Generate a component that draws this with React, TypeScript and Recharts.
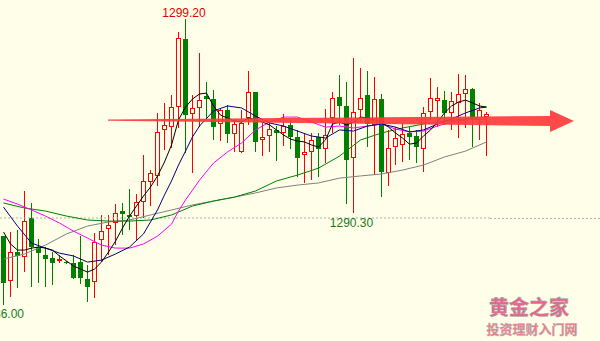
import React from 'react';
import { ComposedChart, Bar, Line, XAxis, YAxis, ReferenceLine } from 'recharts';

// OHLC per candle
const OPEN = [1289.24,1287.18,1288.51,1288.28,1290.07,1288.74,1288.37,1288.24,1288.10,1288.05,
  1288.01,1288.05,1287.27,1287.13,1289.06,1289.57,1289.84,1290.39,1290.21,1290.16,
  1290.80,1291.72,1292.00,1294.11,1294.24,1295.16,1298.28,1294.84,1295.12,1295.67,
  1295.53,1294.38,1295.02,1293.92,1293.10,1294.66,1295.85,1293.65,1293.83,1294.11,
  1293.97,1294.34,1293.79,1292.96,1293.10,1293.79,1293.24,1294.66,1295.62,1295.21,
  1292.82,1295.02,1295.71,1294.34,1295.53,1292.13,1293.33,1293.42,1293.97,1293.83,
  1293.24,1294.93,1295.44,1295.48,1294.89,1295.35,1295.76,1295.99,1294.57,1294.70];

const HIGH = [1289.24,1289.43,1289.52,1291.31,1290.76,1289.11,1288.74,1288.51,1288.37,1288.10,
  1288.37,1289.24,1287.91,1289.38,1290.21,1290.21,1290.71,1290.76,1291.40,1291.17,
  1292.96,1292.27,1294.89,1295.35,1295.71,1298.60,1299.20,1295.71,1297.64,1296.31,
  1295.94,1295.12,1295.25,1294.57,1295.02,1296.81,1295.85,1294.43,1294.43,1294.29,
  1294.84,1294.57,1294.11,1293.97,1293.97,1293.97,1295.07,1295.85,1296.63,1296.31,
  1297.41,1296.95,1296.81,1296.54,1295.76,1294.11,1294.24,1294.43,1294.24,1294.11,
  1295.16,1296.49,1296.08,1295.90,1295.85,1296.68,1296.63,1296.03,1295.35,1294.93];

const LOW = [1286.08,1286.45,1286.86,1287.59,1286.90,1287.09,1286.90,1287.00,1288.01,1287.96,
  1287.27,1287.04,1286.22,1286.40,1288.05,1288.37,1288.83,1289.29,1289.52,1289.01,
  1290.07,1290.62,1291.54,1293.19,1293.28,1294.20,1293.05,1292.13,1294.24,1294.66,
  1293.65,1293.60,1293.51,1293.10,1293.05,1294.34,1293.10,1292.91,1293.10,1292.68,
  1293.37,1293.24,1291.95,1291.68,1291.81,1291.95,1292.59,1293.97,1294.34,1290.71,
  1290.30,1294.43,1293.33,1292.04,1291.03,1291.54,1292.50,1292.64,1292.73,1292.59,
  1292.18,1294.57,1294.24,1294.34,1294.11,1293.74,1294.20,1293.33,1293.65,1292.91];

const CLOSE = [1287.09,1288.51,1288.33,1289.93,1288.74,1288.46,1288.19,1288.01,1288.19,1288.01,
  1287.32,1287.32,1286.90,1288.97,1289.47,1289.75,1290.30,1290.25,1290.12,1290.80,
  1291.77,1292.13,1294.02,1294.34,1295.16,1298.33,1294.79,1295.12,1295.48,1295.53,
  1294.24,1295.02,1293.92,1294.38,1294.43,1295.85,1293.56,1293.79,1294.15,1293.97,
  1294.29,1293.79,1292.82,1293.10,1293.65,1293.24,1293.88,1295.57,1295.21,1292.73,
  1294.93,1295.57,1294.38,1295.53,1292.18,1293.28,1293.74,1293.92,1293.79,1293.33,
  1294.89,1295.57,1295.57,1294.89,1295.44,1295.76,1295.99,1294.66,1295.02,1294.84];

const _ = null;

// moving averages, read where the lines were visible (gaps are joined)
const MA5 = [1289.43,1288.88,1288.60,1288.60,1288.69,1288.74,1288.69,1288.60,1288.33,1288.10,
  1287.87,1287.73,1287.59,1287.73,1288.05,1288.51,1289.01,1289.61,1290.16,1290.62,
  1291.08,1291.49,1292.00,1292.64,1293.42,1294.57,1295.16,1295.53,1295.76,1295.80,
  1295.21,1294.79,1294.66,1294.52,1294.47,1294.66,1294.57,1294.47,1294.34,1294.11,
  1293.88,1293.69,1293.60,1293.56,1293.42,1293.33,1293.65,1294.38,1294.47,1294.34,
  1294.47,1294.70,1294.66,1294.57,1294.47,1294.24,1293.97,1293.74,1293.46,1293.51,
  1293.83,1294.11,1294.47,1294.89,1295.21,1295.39,1295.48,1295.35,1295.21,1295.16];

const MA10 = [1290.57,_,1289.70,_,1288.92,_,1288.69,_,1288.46,_,
  1288.33,_,1288.05,_,1288.14,_,1288.42,_,1288.74,_,
  1289.34,_,1290.44,1291.13,1291.77,1292.50,1293.14,1293.79,1294.29,_,
  1294.98,_,1295.21,_,1295.12,_,1294.75,_,1294.43,_,
  1294.29,_,1294.06,_,1293.83,_,1293.74,_,1294.11,_,
  1294.06,_,1294.29,_,1294.38,_,1294.24,_,1294.02,_,
  1294.11,_,1294.38,_,1294.61,_,1294.89,_,1295.12,1295.16];

const MA20 = [1290.94,_,1290.71,_,1290.44,_,1290.16,_,1289.84,_,
  1289.47,_,1289.15,_,1288.83,_,1288.69,_,1288.69,_,
  1288.88,_,1289.24,_,1289.79,1290.39,1290.90,1291.35,1291.81,_,
  1292.59,_,1293.10,_,1293.51,_,1294.11,_,1294.47,_,
  1294.70,_,1294.70,_,1294.47,_,1294.24,_,1294.29,_,
  1294.20,_,1294.29,_,1294.38,_,1294.15,_,1294.02,_,
  1294.06,_,1294.29,_,1294.47,_,1294.57,_,_,1294.61];

const MA30 = [1290.76,_,_,1290.53,_,_,1290.39,_,_,1290.16,
  _,_,1289.98,_,_,1289.93,_,_,1289.93,_,
  _,1289.98,_,_,1290.21,_,_,1290.62,_,_,
  1290.85,_,_,1291.03,_,_,1291.31,_,_,1291.77,
  _,_,1292.04,_,_,1292.36,_,_,1292.91,_,
  _,1293.65,_,_,1293.97,_,_,1294.20,_,_,
  1294.38,_,_,1294.52,_,_,1294.61,_,_,1294.70];

const MA60 = [1288.19,_,_,1288.42,_,_,1288.83,_,_,1289.34,
  _,_,1289.70,_,_,1289.89,_,_,1289.98,_,
  _,1290.21,_,_,1290.44,_,_,1290.67,_,_,
  1290.85,_,_,1291.03,_,_,1291.22,_,_,1291.45,
  _,_,1291.58,_,_,1291.68,_,_,1291.90,_,
  _,1292.00,_,_,1292.09,_,_,1292.27,_,_,
  1292.50,_,_,1292.87,_,_,1293.14,_,_,1293.56];

const PRICE_LINE = 1290.07;
const HIGH_LABEL = '1299.20';
const LOW_LABEL = '1290.30';
const LEFT_LABEL = '1286.00';

const BG = '#fffee8';
const UP = '#ff0000';
const DOWN = '#008000';

const data = OPEN.map((o, i) => ({
  i,
  open: o,
  high: HIGH[i],
  low: LOW[i],
  close: CLOSE[i],
  range: [LOW[i], HIGH[i]],
  ma5: MA5[i],
  ma10: MA10[i],
  ma20: MA20[i],
  ma30: MA30[i],
  ma60: MA60[i],
}));

const Candle = (props: any) => {
  const { x, y, width, height, payload } = props;
  const { open, close, high, low } = payload;
  const k = height / (high - low);
  const py = (v: number) => y + (high - v) * k;
  const cx = x + width / 2;
  const top = Math.round(py(Math.max(open, close)));
  const bot = Math.max(Math.round(py(Math.min(open, close))), top + 1);
  const yh = Math.round(py(high));
  const yl = Math.round(py(low));
  if (close >= open) {
    return (
      <g>
        <line x1={cx} x2={cx} y1={yh} y2={top} stroke={UP} strokeWidth={1} />
        <line x1={cx} x2={cx} y1={bot} y2={yl} stroke={UP} strokeWidth={1} />
        <rect x={x + 0.5} y={top + 0.5} width={width - 1} height={Math.max(bot - top - 1, 1)} fill={BG} stroke={UP} strokeWidth={1} />
      </g>
    );
  }
  return (
    <g>
      <line x1={cx} x2={cx} y1={yh} y2={yl} stroke={DOWN} strokeWidth={1} />
      <rect x={x} y={top} width={width} height={bot - top} fill={DOWN} />
    </g>
  );
};

const lineProps = {
  strokeWidth: 1,
  dot: false,
  activeDot: false,
  connectNulls: true,
  isAnimationActive: false,
} as const;

export default function App() {
  return (
    <div style={{ position: 'absolute', left: 0, top: 0, width: 600, height: 341, background: BG, overflow: 'hidden' }}>
      <ComposedChart width={600} height={341} data={data} margin={{ top: 0, right: 110, bottom: 0, left: 0 }} barCategoryGap={0}>
        <XAxis dataKey="i" hide />
        <YAxis hide domain={[1284.43, 1300.07]} allowDataOverflow />
        <ReferenceLine y={PRICE_LINE} stroke="#b0b0b0" strokeDasharray="2 2" />
        <Bar dataKey="range" barSize={5} shape={<Candle />} isAnimationActive={false} />
        <Line dataKey="ma60" stroke="#808080" {...lineProps} />
        <Line dataKey="ma30" stroke="#008000" {...lineProps} />
        <Line dataKey="ma20" stroke="#ff00ff" {...lineProps} />
        <Line dataKey="ma10" stroke="#000080" {...lineProps} />
        <Line dataKey="ma5" stroke="#000000" {...lineProps} />
      </ComposedChart>
      <svg width={600} height={341} style={{ position: 'absolute', left: 0, top: 0, pointerEvents: 'none' }}>
        {/* extend the dotted price line across the full width */}
        <line x1={490} x2={600} y1={218.5} y2={218.5} stroke="#b0b0b0" strokeDasharray="2 2" />
        {/* hand-drawn red arrow */}
        <polygon points="108,119.5 550,116 550,110 574,121 550,132 550,126 108,120.8" fill="#ff3b3b" fillOpacity={0.92} />
        <g fontFamily="'Liberation Sans', Arial, sans-serif" fontSize={12}>
          <text x={184} y={17} textAnchor="middle" fill="#e00000">{HIGH_LABEL}</text>
          <text x={351.5} y={227} textAnchor="middle" fill="#1a7a1a">{LOW_LABEL}</text>
          <text x={24} y={318} textAnchor="end" fill="#1a7a1a">{LEFT_LABEL}</text>
        </g>
        <g fontFamily="'Noto Sans CJK SC', sans-serif">
          <text x={529} y={315} textAnchor="middle" fontSize={20} fontWeight="bold" fill="#f2608c" stroke="#a0a0a0" strokeWidth={0.6}>黄金之家</text>
          <text x={532} y={334} textAnchor="middle" fontSize={13} fontWeight="bold" fill="#f07a8a" stroke="#b0b0b0" strokeWidth={0.4}>投资理财入门网</text>
        </g>
      </svg>
    </div>
  );
}
